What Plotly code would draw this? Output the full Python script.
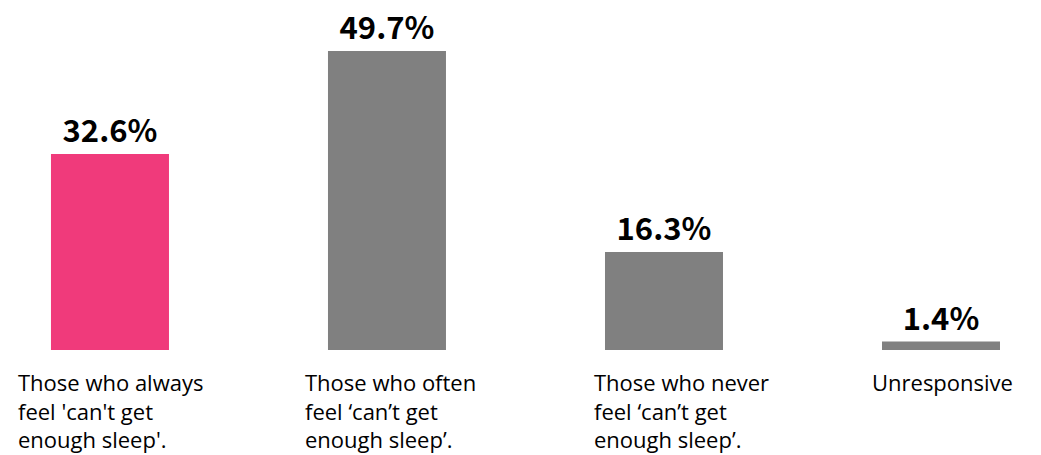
import plotly.graph_objects as go

categories = ["Those who always<br>feel 'can't get<br>enough sleep'.",
              "Those who often<br>feel ‘can’t get<br>enough sleep’.",
              "Those who never<br>feel ‘can’t get<br>enough sleep’.",
              "Unresponsive"]
values = [32.6, 49.7, 16.3, 1.4]
value_labels = ["32.6%", "49.7%", "16.3%", "1.4%"]
colors = ["#F03A7B", "#808080", "#808080", "#808080"]
label_xshift = [-94, -84, -72, -71]

x_idx = list(range(len(categories)))

fig = go.Figure()
fig.add_trace(go.Bar(
    x=x_idx, y=values, marker=dict(color=colors, line=dict(width=0)),
    width=0.426, text=value_labels, textposition="outside", cliponaxis=False,
    textfont=dict(family="Noto Sans CJK KR", size=31, color="black", weight="bold"),
    hoverinfo="skip",
))

for i, c in enumerate(categories):
    fig.add_annotation(x=x_idx[i], y=0, xref="x", yref="paper", text=c,
                       xanchor="left", yanchor="top", align="left",
                       xshift=label_xshift[i], yshift=-15, showarrow=False,
                       font=dict(family="Open Sans", size=22, color="black"))

fig.update_layout(
    width=1041, height=455, margin=dict(l=0, r=0, t=0, b=105),
    plot_bgcolor="white", paper_bgcolor="white", showlegend=False,
    xaxis=dict(range=[-0.397, 3.361], visible=False),
    yaxis=dict(range=[0, 58.2], visible=False),
)
fig.write_html("out.html")
